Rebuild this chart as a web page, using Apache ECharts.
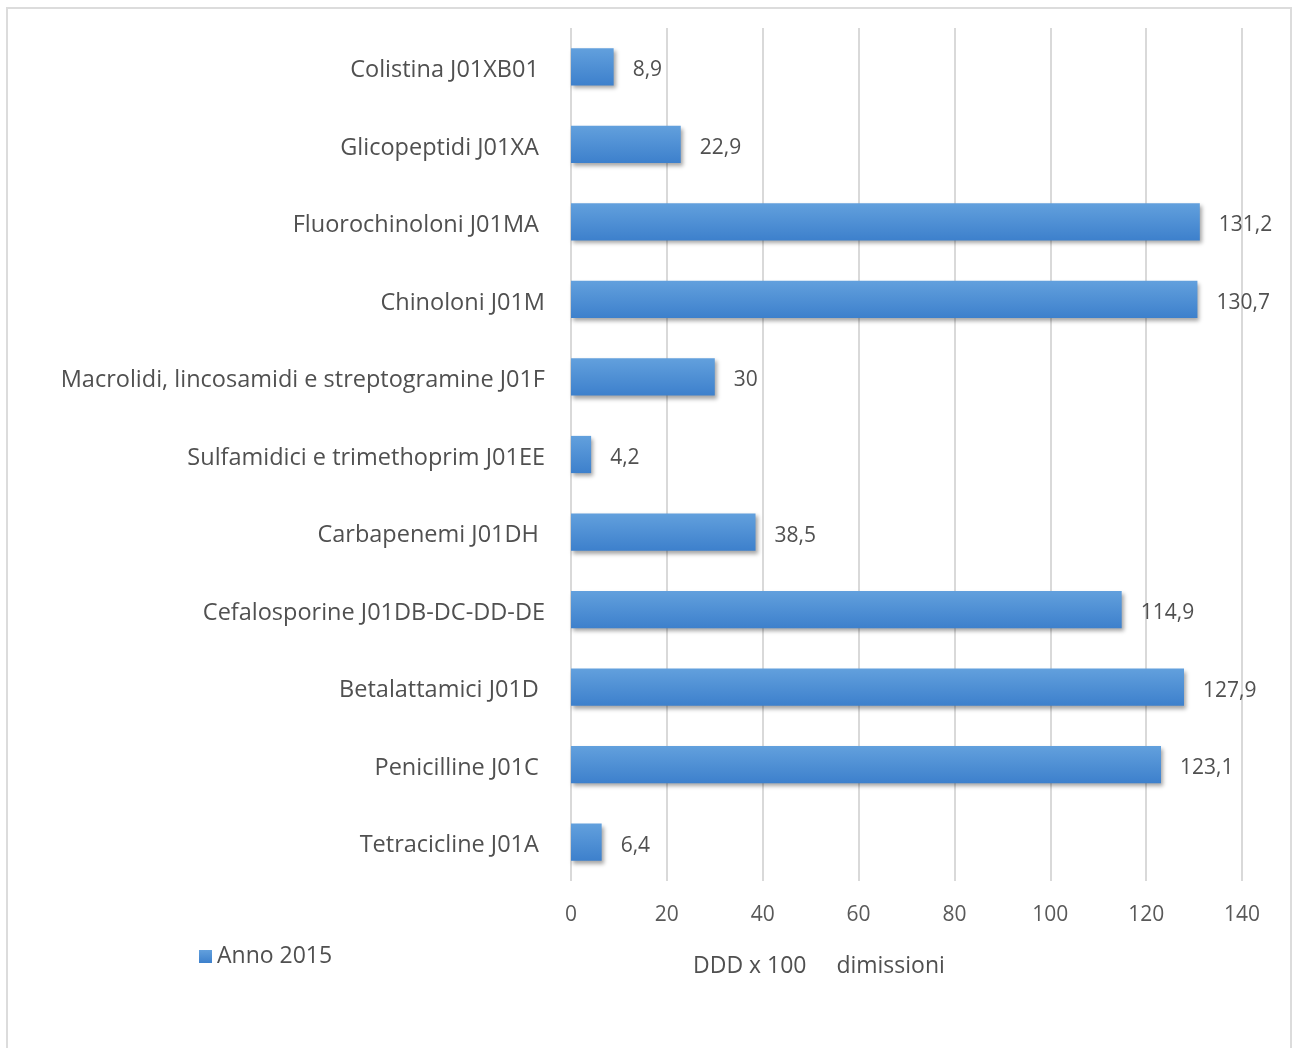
<!DOCTYPE html>
<html>
<head>
<meta charset="utf-8">
<script src="https://cdn.jsdelivr.net/npm/echarts@6/dist/echarts.min.js"></script>
<style>
  html, body { margin: 0; padding: 0; background: #ffffff; }
  #chart { width: 1293px; height: 1048px; }
</style>
</head>
<body>
<div id="chart"></div>
<script>
// Antibiotic classes, listed top to bottom
const categories = [
  'Colistina J01XB01 ',
  'Glicopeptidi J01XA ',
  'Fluorochinoloni J01MA ',
  'Chinoloni J01M',
  'Macrolidi, lincosamidi e streptogramine J01F',
  'Sulfamidici e trimethoprim J01EE',
  'Carbapenemi J01DH ',
  'Cefalosporine J01DB-DC-DD-DE',
  'Betalattamici J01D ',
  'Penicilline J01C ',
  'Tetracicline J01A '
];
// DDD x 100 dimissioni, year 2015
const values2015 = [8.9, 22.9, 131.2, 130.7, 30, 4.2, 38.5, 114.9, 127.9, 123.1, 6.4];
const seriesName = 'Anno 2015';
const axisTitle = 'DDD x 100     dimissioni';

const FONT = 'Open Sans';
const TEXT = '#505050';

const chart = echarts.init(document.getElementById('chart'), null, { renderer: 'canvas' });
chart.setOption({
  backgroundColor: '#ffffff',
  animation: false,
  textStyle: { fontFamily: FONT },
  grid: { left: 571, right: 51, top: 28, bottom: 167, containLabel: false },
  legend: {
    left: 194, top: 940,
    icon: 'rect', itemWidth: 13, itemHeight: 13, itemGap: 7,
    data: [seriesName],
    textStyle: { fontFamily: FONT, fontSize: 23, color: TEXT }
  },
  xAxis: {
    type: 'value', min: 0, max: 140, interval: 20,
    axisLine: { show: false },
    axisTick: { show: false },
    splitLine: { show: true, lineStyle: { color: '#d9d9d9', width: 2 } },
    axisLabel: { fontFamily: FONT, fontSize: 21, color: '#595959', margin: 24 }
  },
  yAxis: {
    type: 'category', inverse: true, data: categories,
    axisLine: { show: false },
    axisTick: { show: false },
    axisLabel: {
      fontFamily: FONT, fontSize: 23.5, color: TEXT, margin: 26,
      verticalAlign: 'top', lineHeight: 7
    }
  },
  graphic: [
    {
      type: 'rect', z: -1, silent: true,
      shape: { x: 7, y: 8, width: 1284, height: 1050 },
      style: { fill: 'none', stroke: '#dcdcdc', lineWidth: 2 }
    },
    {
      type: 'text', left: 693, top: 955,
      style: { text: axisTitle, font: '23px "' + FONT + '"', fill: TEXT }
    }
  ],
  series: [{
    name: seriesName,
    type: 'bar',
    data: values2015,
    barWidth: '48%',
    itemStyle: {
      color: new echarts.graphic.LinearGradient(0, 0, 0, 1, [
        { offset: 0, color: '#62a0dd' },
        { offset: 1, color: '#3d80cc' }
      ]),
      shadowColor: 'rgba(0,0,0,0.35)',
      shadowBlur: 4,
      shadowOffsetX: 2,
      shadowOffsetY: 3
    },
    label: {
      show: true, position: 'right', distance: 19,
      fontFamily: FONT, fontSize: 21, color: TEXT,
      verticalAlign: 'top', lineHeight: 7,
      formatter: p => String(p.value).replace('.', ',')
    }
  }]
});
</script>
</body>
</html>
